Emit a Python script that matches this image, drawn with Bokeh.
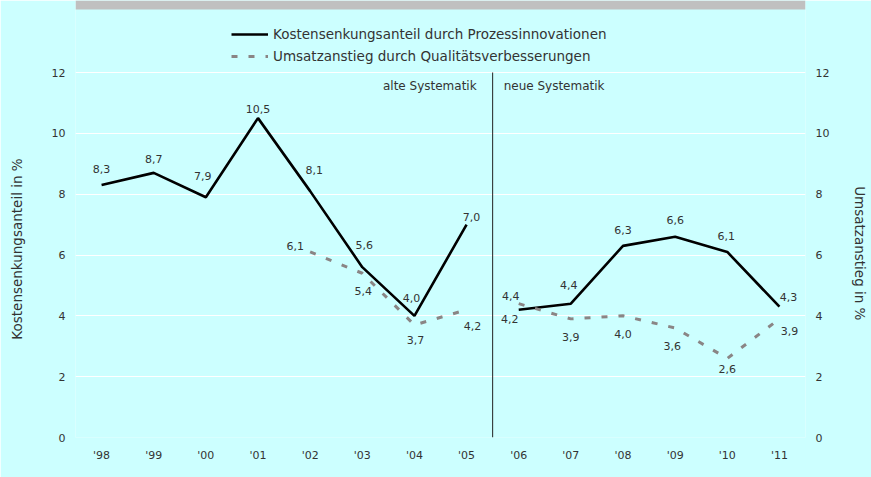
from bokeh.plotting import figure
from bokeh.models import (Range1d, LinearAxis, FixedTicker, Legend, LegendItem,
                          ColumnDataSource, BoxAnnotation)
from bokeh.core.properties import value
from bokeh.embed import file_html
from bokeh.resources import INLINE

# ---------------- data ----------------
years = ["'98", "'99", "'00", "'01", "'02", "'03", "'04", "'05",
         "'06", "'07", "'08", "'09", "'10", "'11"]
kosten = [8.3, 8.7, 7.9, 10.5, 8.1, 5.6, 4.0, 7.0,
          4.2, 4.4, 6.3, 6.6, 6.1, 4.3]
umsatz = [None, None, None, None, 6.1, 5.4, 3.7, 4.2,
          4.4, 3.9, 4.0, 3.6, 2.6, 3.9]
break_year = "'06"          # first year of "neue Systematik"
y_ticks = [0, 2, 4, 6, 8, 10, 12]
name_kosten = "Kostensenkungsanteil durch Prozessinnovationen"
name_umsatz = "Umsatzanstieg durch Qualitätsverbesserungen"
label_left = "Kostensenkungsanteil in %"
label_right = "Umsatzanstieg in %"

# label offsets in screen pixels (dx, dy; dy positive = down)
kosten_dx = [0, 0, -3, 0, 4, 2, -3, 5, -9, -2, 0, 0, -1, 9]
kosten_dy = [-16, -14, -21, -9, -21, -22, -18, -8, 9, -19, -16, -17, -16, -10]
umsatz_dx = [0, 0, 0, 0, -15, 1, 1, 6, -8, 0, 0, -3, 0, 10]
umsatz_dy = [0, 0, 0, 0, -6, 18, 15, 16, -8, 18, 18, 18, 11, 12]

FONT = "DejaVu Sans"
TXT = "#333333"
BG = "#ccffff"

x = list(range(len(years)))
bi = years.index(break_year)

# layout: plot area reaches the top edge (legend zone); axes show 0..12 only
FRAME_BOTTOM = 437
FRAME_TOP_12 = 72
PX = (FRAME_BOTTOM - FRAME_TOP_12) / (y_ticks[-1] - y_ticks[0])
Y_TOP = y_ticks[-1] + FRAME_TOP_12 / PX

p = figure(width=871, height=477, output_backend="svg", toolbar_location=None,
           x_range=Range1d(-0.5, len(years) - 0.5),
           y_range=Range1d(y_ticks[0], Y_TOP),
           min_border_left=75, min_border_right=64, min_border_top=0,
           min_border_bottom=477 - FRAME_BOTTOM)
p.background_fill_color = BG
p.border_fill_color = BG
p.outline_line_color = None
p.xgrid.grid_line_color = None
p.ygrid.grid_line_color = "white"
p.ygrid.grid_line_width = 1
p.ygrid.ticker = FixedTicker(ticks=y_ticks)

p.extra_y_ranges = {"right": Range1d(y_ticks[0], Y_TOP)}

# grey strip at the top edge
p.add_layout(BoxAnnotation(bottom=Y_TOP - 9 / PX, top=Y_TOP,
                           fill_color="#c0c0c0", fill_alpha=1, line_color=None))

# axes (non-breaking spaces keep the axis titles centred on the 0..12 span)
NB = "\u00a0"
p.xaxis.ticker = FixedTicker(ticks=x)
p.xaxis.major_label_overrides = {i: y for i, y in enumerate(years)}
p.yaxis.ticker = FixedTicker(ticks=y_ticks)
p.yaxis.axis_label = label_left + NB * 14
right = LinearAxis(y_range_name="right", ticker=FixedTicker(ticks=y_ticks),
                   axis_label=NB * 16 + label_right)
p.add_layout(right, "right")
for ax in [p.xaxis[0], p.yaxis[0], right]:
    ax.axis_line_color = None
    ax.major_tick_line_color = None
    ax.minor_tick_line_color = None
    ax.major_tick_out = 0
    ax.major_tick_in = 0
    ax.minor_tick_out = 0
    ax.minor_tick_in = 0
    ax.major_label_text_font = FONT
    ax.major_label_text_font_size = "11px"
    ax.major_label_text_color = TXT
    ax.axis_label_text_font = FONT
    ax.axis_label_text_font_size = "13.5px"
    ax.axis_label_text_font_style = "normal"
    ax.axis_label_text_color = TXT
p.xaxis.major_label_standoff = 11
p.yaxis.major_label_standoff = 10
p.yaxis.axis_label_standoff = 24
right.major_label_standoff = 10
right.axis_label_standoff = 20

# separator between old and new systematics
p.segment(x0=[bi - 0.5], y0=[y_ticks[0]], x1=[bi - 0.5], y1=[y_ticks[-1]],
          line_color="#222222", line_width=1)

# lines (broken at the change of systematics)
nan = float("nan")
def clean(v):
    return [nan if a is None else a for a in v]

k = clean(kosten)
u = clean(umsatz)
rk = []
ru = []
for seg in [(0, bi), (bi, len(years))]:
    xs = x[seg[0]:seg[1]]
    rk.append(p.line(xs, k[seg[0]:seg[1]], line_color="black", line_width=2.6))
    ru.append(p.line(xs, u[seg[0]:seg[1]], line_color="#8a8585", line_width=3,
                     line_dash="6 11", y_range_name="right"))

# value labels
def fmt(v):
    return "" if v is None else f"{v:.1f}".replace(".", ",")

src_k = ColumnDataSource(dict(x=x, y=kosten, t=[fmt(v) for v in kosten],
                              dx=kosten_dx, dy=kosten_dy))
p.text(x="x", y="y", text="t", x_offset="dx", y_offset="dy", source=src_k,
       text_font=value(FONT), text_font_size="11px", text_color=TXT,
       text_align="center", text_baseline="middle")
ix = [i for i, v in enumerate(umsatz) if v is not None]
src_u = ColumnDataSource(dict(x=[x[i] for i in ix], y=[umsatz[i] for i in ix],
                              t=[fmt(umsatz[i]) for i in ix],
                              dx=[umsatz_dx[i] for i in ix],
                              dy=[umsatz_dy[i] for i in ix]))
p.text(x="x", y="y", text="t", x_offset="dx", y_offset="dy", source=src_u,
       y_range_name="right",
       text_font=value(FONT), text_font_size="11px", text_color=TXT,
       text_align="center", text_baseline="middle")

# period annotations
p.text(x=[bi - 0.5], y=[y_ticks[-1]], text=["alte Systematik"], x_offset=-16,
       y_offset=13, text_font=value(FONT), text_font_size="12px", text_color=TXT,
       text_align="right", text_baseline="middle")
p.text(x=[bi - 0.5], y=[y_ticks[-1]], text=["neue Systematik"], x_offset=11,
       y_offset=13, text_font=value(FONT), text_font_size="12px", text_color=TXT,
       text_align="left", text_baseline="middle")

# legend at the top of the drawing area
legend = Legend(items=[LegendItem(label=name_kosten, renderers=[rk[0]]),
                       LegendItem(label=name_umsatz, renderers=[ru[0]])],
                location=(156, 371), orientation="vertical",
                glyph_width=37, glyph_height=20, label_height=20, spacing=2,
                label_standoff=5, padding=0, margin=0,
                label_text_font=FONT, label_text_font_size="13.5px",
                label_text_color=TXT,
                background_fill_alpha=0, border_line_alpha=0)
p.add_layout(legend, "center")

open("out.html", "w").write(file_html(p, INLINE))
